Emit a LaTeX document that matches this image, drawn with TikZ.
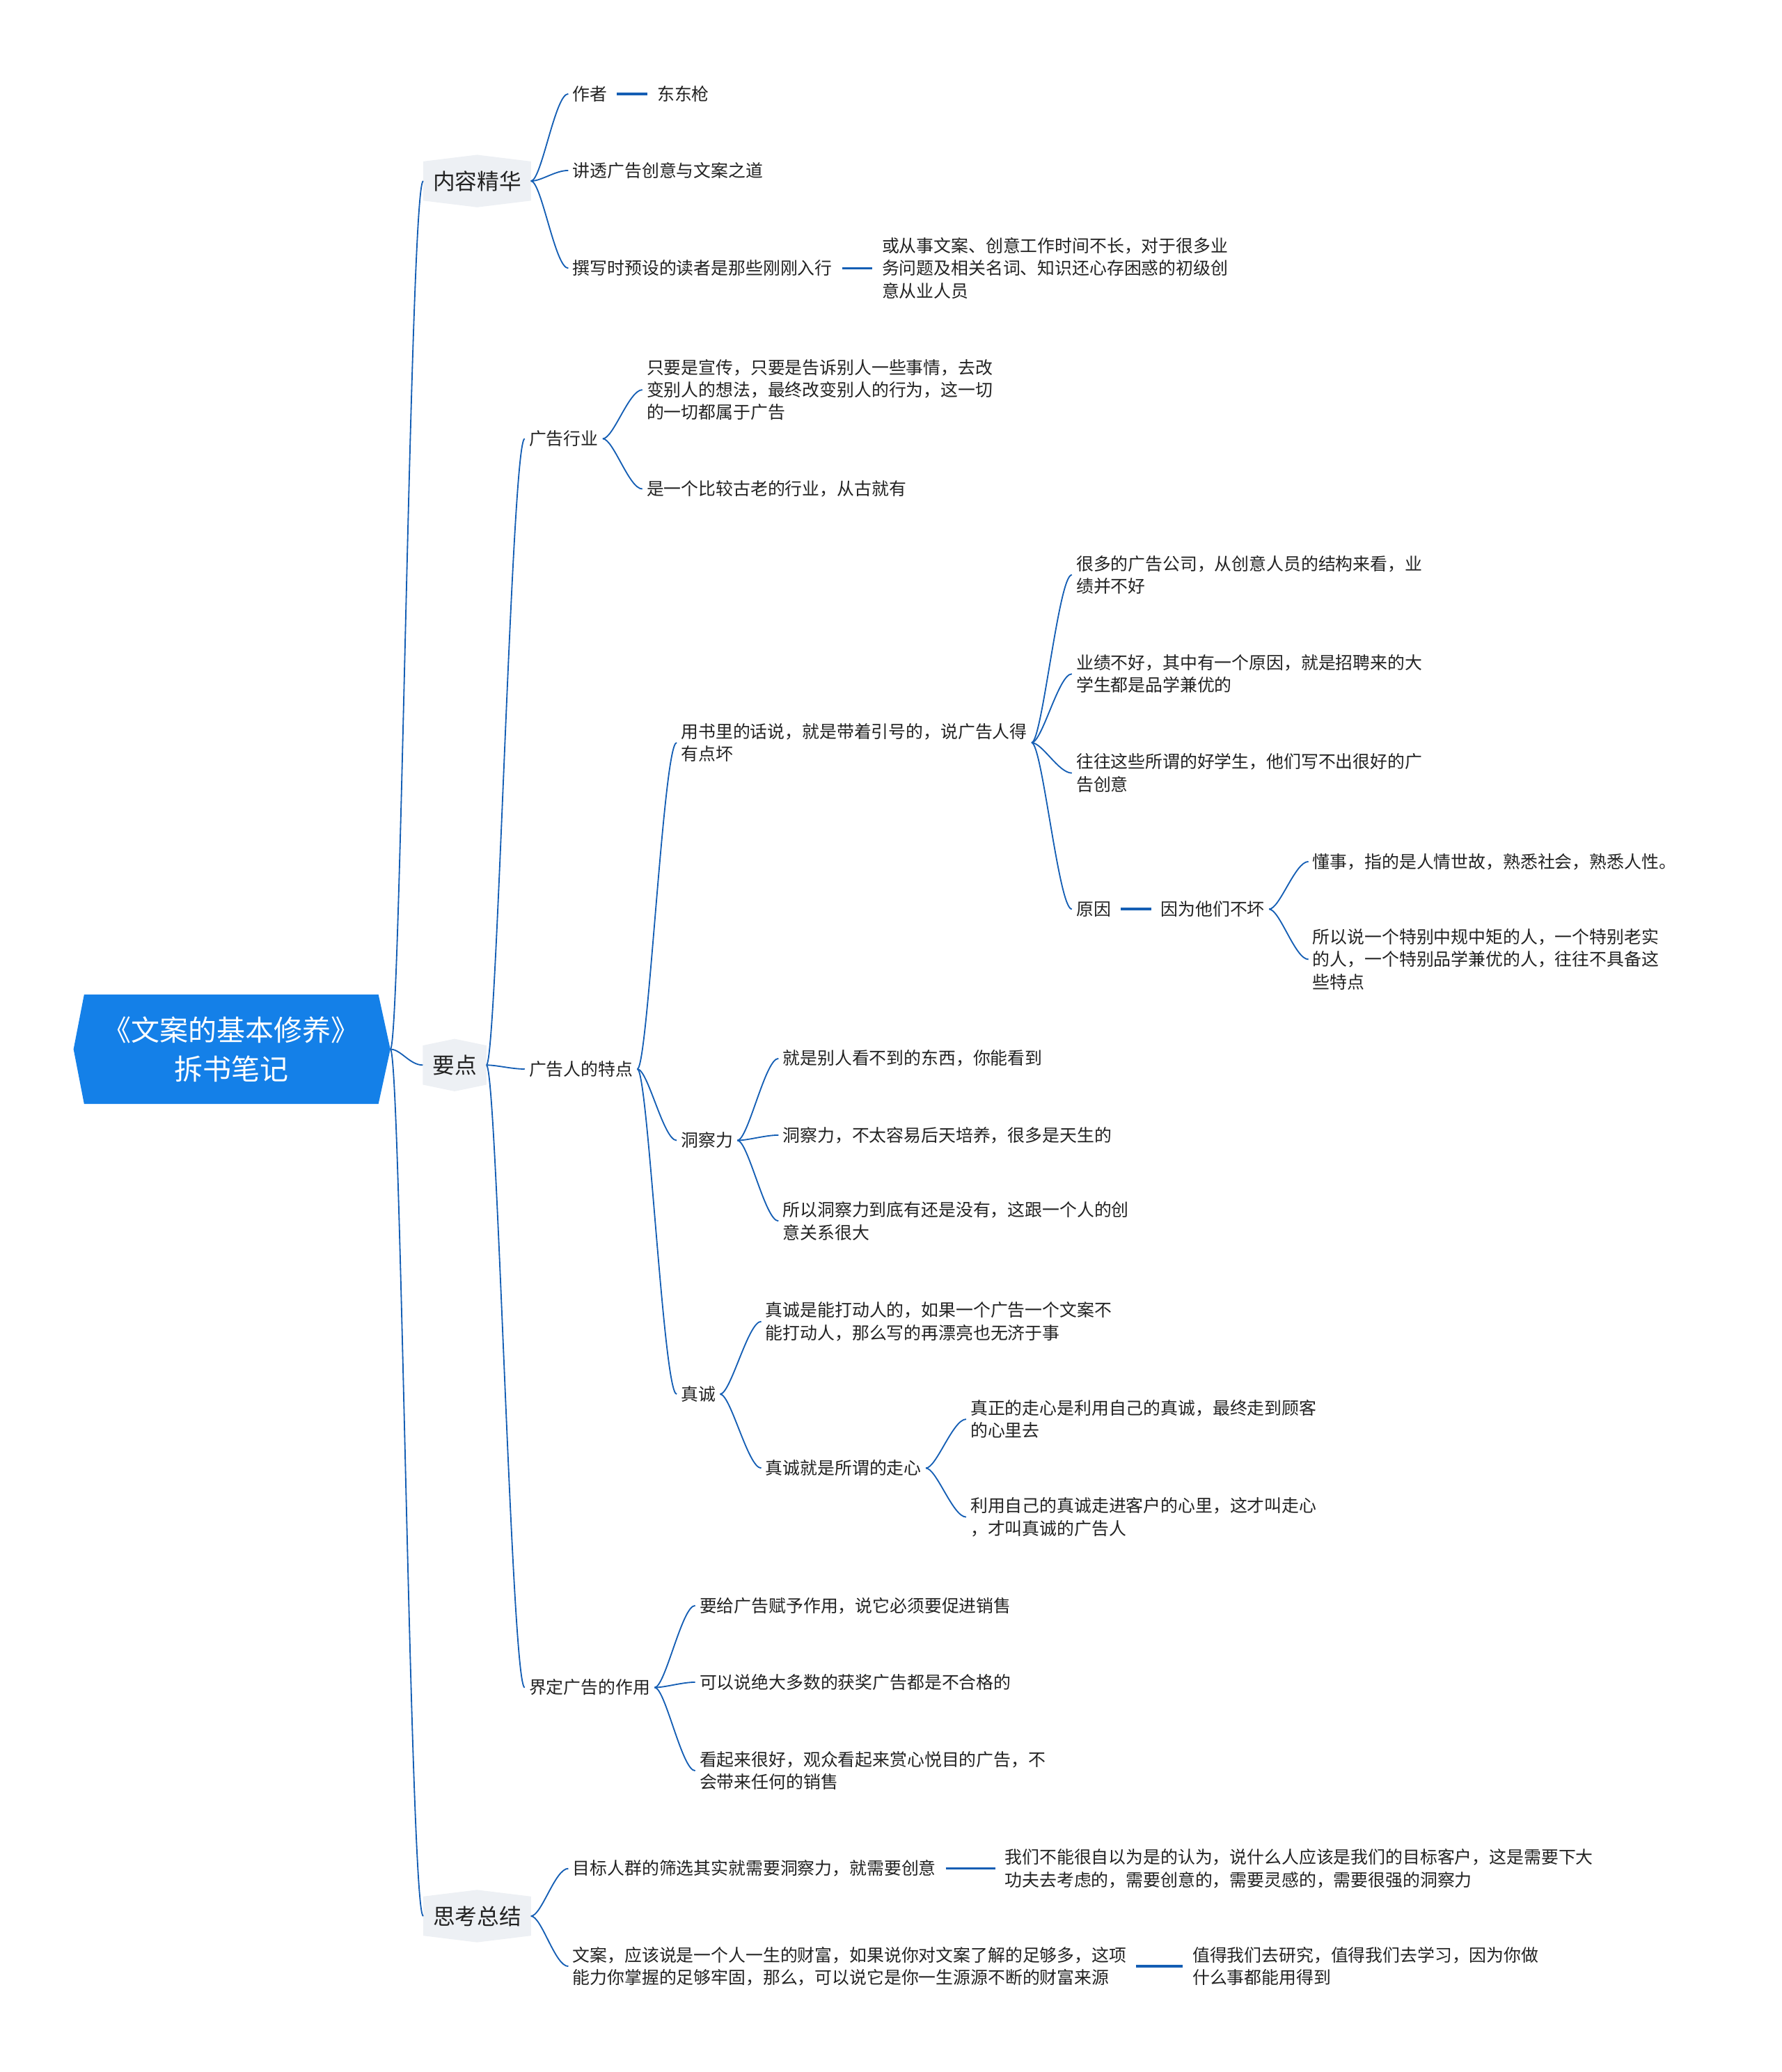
\documentclass[tikz,border=0pt]{standalone}
\usepackage{fontspec}
\setmainfont{Noto Sans CJK SC}
\usepackage{tikz}
\usetikzlibrary{calc,backgrounds}
\definecolor{linkblue}{RGB}{20,94,180}
\definecolor{rootblue}{RGB}{20,128,232}
\definecolor{topicgray}{RGB}{237,240,244}
\definecolor{inkgray}{RGB}{34,34,34}

\tikzset{
	root/.style={text=white, font=\fontsize{12.3pt}{16.8pt}\selectfont, align=center, minimum width=44.4mm, minimum height=16.4mm, inner sep=0pt},
	topic/.style={text=inkgray, font=\fontsize{9.5pt}{11pt}\selectfont, inner xsep=1.4mm, inner ysep=0pt, minimum height=5.8mm},
	leaf/.style={anchor=west, text=inkgray, font=\fontsize{7.45pt}{9.7pt}\selectfont, align=left, inner xsep=0.6mm, inner ysep=0.5mm},
	link/.style={draw=linkblue, line width=0.55pt, to path={.. controls +(8,0) and +(-10,0) .. (\tikztotarget)}},
	tie/.style={draw=linkblue, line width=1.1pt, shorten <=0.8mm, shorten >=0.8mm}
}
\newcommand{\topicbg}[1]{\fill[topicgray] (#1.north west) -- ($(#1.north)+(0,-5)$) -- (#1.north east) -- (#1.south east) -- ($(#1.south)+(0,5)$) -- (#1.south west) -- cycle;}

\begin{document}
\begin{tikzpicture}[x=0.2mm, y=-0.2mm]
	\useasboundingbox (0,0) rectangle (1348,1568);
	\node (root) at (175,794) [root] {《文案的基本修养》\\拆书笔记};
	\coordinate (rootR) at ($(root.east)+(9,0)$);
	\node (jh) at (361,137) [topic] {内容精华};
	\node (yd) at (344,806) [topic] {要点};
	\node (zj) at (361,1450) [topic] {思考总结};

	\node (a1) at (430,71) [leaf] {作者};
	\node (a1r) at (494,71) [leaf] {东东枪};
	\node (a2) at (430,129) [leaf] {讲透广告创意与文案之道};
	\node (a3) at (430,203) [leaf] {撰写时预设的读者是那些刚刚入行};
	\node (a3r) at (664,203) [leaf] {或从事文案、创意工作时间不长，对于很多业\\务问题及相关名词、知识还心存困惑的初级创\\意从业人员};

	\node (b1) at (397,332) [leaf] {广告行业};
	\node (b1a) at (486,295) [leaf] {只要是宣传，只要是告诉别人一些事情，去改\\变别人的想法，最终改变别人的行为，这一切\\的一切都属于广告};
	\node (b1b) at (486,370) [leaf] {是一个比较古老的行业，从古就有};

	\node (b2) at (397,809) [leaf] {广告人的特点};
	\node (c1) at (512,562) [leaf] {用书里的话说，就是带着引号的，说广告人得\\有点坏};
	\node (d1) at (811,435) [leaf] {很多的广告公司，从创意人员的结构来看，业\\绩并不好};
	\node (d2) at (811,510) [leaf] {业绩不好，其中有一个原因，就是招聘来的大\\学生都是品学兼优的};
	\node (d3) at (811,585) [leaf] {往往这些所谓的好学生，他们写不出很好的广\\告创意};
	\node (d4) at (811,688) [leaf] {原因};
	\node (d4r) at (875,688) [leaf] {因为他们不坏};
	\node (e1) at (990,652) [leaf] {懂事，指的是人情世故，熟悉社会，熟悉人性。};
	\node (e2) at (990,726) [leaf] {所以说一个特别中规中矩的人，一个特别老实\\的人，一个特别品学兼优的人，往往不具备这\\些特点};
	\node (c2) at (512,863) [leaf] {洞察力};
	\node (f1) at (589,801) [leaf] {就是别人看不到的东西，你能看到};
	\node (f2) at (589,859) [leaf] {洞察力，不太容易后天培养，很多是天生的};
	\node (f3) at (589,924) [leaf] {所以洞察力到底有还是没有，这跟一个人的创\\意关系很大};
	\node (c3) at (512,1055) [leaf] {真诚};
	\node (g1) at (576,1000) [leaf] {真诚是能打动人的，如果一个广告一个文案不\\能打动人，那么写的再漂亮也无济于事};
	\node (g2) at (576,1111) [leaf] {真诚就是所谓的走心};
	\node (h1) at (731,1074) [leaf] {真正的走心是利用自己的真诚，最终走到顾客\\的心里去};
	\node (h2) at (731,1148) [leaf] {利用自己的真诚走进客户的心里，这才叫走心\\，才叫真诚的广告人};

	\node (b3) at (397,1277) [leaf] {界定广告的作用};
	\node (i1) at (526,1215) [leaf] {要给广告赋予作用，说它必须要促进销售};
	\node (i2) at (526,1273) [leaf] {可以说绝大多数的获奖广告都是不合格的};
	\node (i3) at (526,1340) [leaf] {看起来很好，观众看起来赏心悦目的广告，不\\会带来任何的销售};

	\node (j1) at (430,1414) [leaf] {目标人群的筛选其实就需要洞察力，就需要创意};
	\node (j1r) at (757,1414) [leaf] {我们不能很自以为是的认为，说什么人应该是我们的目标客户，这是需要下大\\功夫去考虑的，需要创意的，需要灵感的，需要很强的洞察力};
	\node (j2) at (430,1488) [leaf] {文案，应该说是一个人一生的财富，如果说你对文案了解的足够多，这项\\能力你掌握的足够牢固，那么，可以说它是你一生源源不断的财富来源};
	\node (j2r) at (899,1488) [leaf] {值得我们去研究，值得我们去学习，因为你做\\什么事都能用得到};

	\begin{scope}[on background layer]
		\fill[rootblue] (root.north west) -- (root.north east) -- (rootR) -- (root.south east) -- (root.south west) -- ($(root.west)+(-8,0)$) -- cycle;
		\topicbg{jh}
		\topicbg{yd}
		\topicbg{zj}
	\end{scope}

	\draw[link] (rootR) to (jh.west);
	\draw[link] (rootR) to (yd.west);
	\draw[link] (rootR) to (zj.west);
	\draw[link] (jh.east) to (a1.west);
	\draw[link] (jh.east) to (a2.west);
	\draw[link] (jh.east) to (a3.west);
	\draw[tie] (a1.east) -- (a1r.west);
	\draw[tie] (a3.east) -- (a3r.west);
	\draw[link] (yd.east) to (b1.west);
	\draw[link] (yd.east) to (b2.west);
	\draw[link] (yd.east) to (b3.west);
	\draw[link] (b1.east) to (b1a.west);
	\draw[link] (b1.east) to (b1b.west);
	\draw[link] (b2.east) to (c1.west);
	\draw[link] (b2.east) to (c2.west);
	\draw[link] (b2.east) to (c3.west);
	\draw[link] (c1.east) to (d1.west);
	\draw[link] (c1.east) to (d2.west);
	\draw[link] (c1.east) to (d3.west);
	\draw[link] (c1.east) to (d4.west);
	\draw[tie] (d4.east) -- (d4r.west);
	\draw[link] (d4r.east) to (e1.west);
	\draw[link] (d4r.east) to (e2.west);
	\draw[link] (c2.east) to (f1.west);
	\draw[link] (c2.east) to (f2.west);
	\draw[link] (c2.east) to (f3.west);
	\draw[link] (c3.east) to (g1.west);
	\draw[link] (c3.east) to (g2.west);
	\draw[link] (g2.east) to (h1.west);
	\draw[link] (g2.east) to (h2.west);
	\draw[link] (b3.east) to (i1.west);
	\draw[link] (b3.east) to (i2.west);
	\draw[link] (b3.east) to (i3.west);
	\draw[link] (zj.east) to (j1.west);
	\draw[link] (zj.east) to (j2.west);
	\draw[tie] (j1.east) -- (j1r.west);
	\draw[tie] (j2.east) -- (j2r.west);
\end{tikzpicture}
\end{document}
